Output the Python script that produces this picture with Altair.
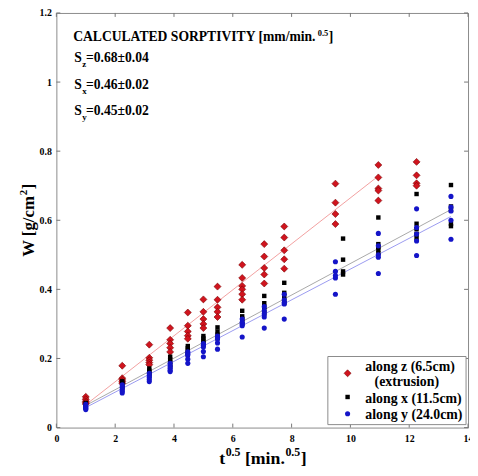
import altair as alt
import pandas as pd

FONT = "Liberation Serif"

# ---------------- data ----------------
z_t = [1.0, 2.24, 3.16, 3.87, 4.47, 5.0, 5.48, 6.32, 7.07, 7.75, 9.49, 10.95, 12.25]
z_w = [
    [0.089, 0.082, 0.076, 0.072, 0.068],
    [0.179, 0.143, 0.138, 0.133, 0.128],
    [0.240, 0.202, 0.195, 0.188, 0.182],
    [0.288, 0.254, 0.243, 0.231, 0.219],
    [0.333, 0.295, 0.278, 0.266, 0.257],
    [0.371, 0.335, 0.314, 0.300, 0.288],
    [0.408, 0.370, 0.348, 0.335, 0.320],
    [0.471, 0.433, 0.410, 0.400, 0.386, 0.370],
    [0.531, 0.495, 0.462, 0.443, 0.417],
    [0.582, 0.550, 0.513, 0.487, 0.460],
    [0.706, 0.651, 0.618, 0.589],
    [0.760, 0.724, 0.692, 0.686, 0.657],
    [0.769, 0.730, 0.707, 0.700],
]

x_t = [1.0, 2.24, 3.16, 3.87, 4.47, 5.0, 5.48, 6.32, 7.07, 7.75, 9.75, 10.95, 12.25, 13.42]
x_w = [
    [0.071, 0.066, 0.062, 0.060, 0.058],
    [0.134, 0.129, 0.124, 0.118, 0.114],
    [0.171, 0.165, 0.160, 0.155, 0.150],
    [0.205, 0.197, 0.190, 0.181, 0.176],
    [0.236, 0.230, 0.224, 0.217, 0.210],
    [0.265, 0.258, 0.252, 0.245, 0.240],
    [0.290, 0.278, 0.269, 0.262, 0.258],
    [0.338, 0.322, 0.315, 0.306, 0.300],
    [0.381, 0.360, 0.350, 0.340, 0.330],
    [0.419, 0.390, 0.380, 0.368, 0.360],
    [0.547, 0.486, 0.452, 0.443],
    [0.608, 0.531, 0.522, 0.515, 0.505],
    [0.676, 0.590, 0.574, 0.560, 0.548],
    [0.702, 0.640, 0.629, 0.590, 0.583],
]

y_t = [1.0, 2.24, 3.16, 3.87, 4.47, 5.0, 5.48, 6.32, 7.07, 7.75, 9.49, 10.95, 12.25, 13.42]
y_w = [
    [0.067, 0.062, 0.058, 0.055, 0.052],
    [0.124, 0.117, 0.110, 0.105, 0.100],
    [0.157, 0.150, 0.145, 0.139, 0.133],
    [0.186, 0.178, 0.172, 0.166, 0.162],
    [0.219, 0.214, 0.210, 0.198, 0.186],
    [0.243, 0.238, 0.233, 0.220, 0.205],
    [0.265, 0.261, 0.257, 0.245, 0.227],
    [0.314, 0.305, 0.300, 0.295, 0.262],
    [0.350, 0.338, 0.329, 0.320, 0.288],
    [0.386, 0.370, 0.362, 0.358, 0.314],
    [0.480, 0.452, 0.440, 0.433, 0.386],
    [0.562, 0.526, 0.500, 0.493, 0.446],
    [0.633, 0.579, 0.560, 0.540, 0.498],
    [0.669, 0.638, 0.627, 0.600, 0.545],
]

# fitted lines (end points)
zfit_t = [1.0, 10.95]
zfit_w = [0.066, 0.728]
xfit_t = [1.0, 13.42]
xfit_w = [0.064, 0.631]
yfit_t = [1.0, 13.42]
yfit_w = [0.058, 0.611]

x_ticks = [0, 2, 4, 6, 8, 10, 12, 14]
y_ticks = [0, 0.2, 0.4, 0.6, 0.8, 1.0, 1.2]

W, H = 417, 420


def long(ts, ws):
    rows = []
    for t, vals in zip(ts, ws):
        for v in vals:
            rows.append({"t": t, "w": v})
    return pd.DataFrame(rows)


xs = alt.Scale(domain=[0, 14], nice=False, zero=False)
ys = alt.Scale(domain=[0, 1.2], nice=False, zero=False)

xaxis = alt.Axis(values=x_ticks, format="~g", title=None, ticks=False, domain=False, grid=False,
                 labelFont=FONT, labelFontWeight="bold", labelFontSize=10, labelPadding=6,
                 labelFlush=False, labelOverlap=False, labelColor="black")
yaxis = alt.Axis(values=y_ticks, format="~g", title=None, ticks=False, domain=False, grid=False,
                 labelFont=FONT, labelFontWeight="bold", labelFontSize=10, labelPadding=5,
                 labelOverlap=False, labelColor="black")

# inward tick marks on all four sides
xt = pd.DataFrame({"t": x_ticks})
yt = pd.DataFrame({"w": y_ticks})
TICK = "#777777"
tick_b = alt.Chart(xt).mark_rule(color=TICK, strokeWidth=1).encode(
    x=alt.X("t:Q", scale=xs, axis=xaxis), y=alt.value(H), y2=alt.value(H - 4))
tick_t = alt.Chart(xt).mark_rule(color=TICK, strokeWidth=1).encode(
    x=alt.X("t:Q", scale=xs), y=alt.value(0), y2=alt.value(4))
tick_l = alt.Chart(yt).mark_rule(color=TICK, strokeWidth=1).encode(
    y=alt.Y("w:Q", scale=ys, axis=yaxis), x=alt.value(0), x2=alt.value(4))
tick_r = alt.Chart(yt).mark_rule(color=TICK, strokeWidth=1).encode(
    y=alt.Y("w:Q", scale=ys), x=alt.value(W - 4), x2=alt.value(W))


def fit(ts, ws, color):
    return alt.Chart(pd.DataFrame({"t": ts, "w": ws})).mark_line(color=color, strokeWidth=1).encode(
        x=alt.X("t:Q", scale=xs), y=alt.Y("w:Q", scale=ys))


RED = "#d0141e"
BLUE = "#1414c8"

line_z = fit(zfit_t, zfit_w, "#f2a0a0")
line_x = fit(xfit_t, xfit_w, "#a8a8a8")
line_y = fit(yfit_t, yfit_w, "#9a9af0")

pts_z = alt.Chart(long(z_t, z_w)).mark_point(shape="diamond", filled=True, size=50, color=RED,
                                              stroke="#7a0000", strokeWidth=0.6, opacity=1).encode(
    x=alt.X("t:Q", scale=xs), y=alt.Y("w:Q", scale=ys))
pts_x = alt.Chart(long(x_t, x_w)).mark_point(shape="square", filled=True, size=20, color="black",
                                              opacity=1).encode(
    x=alt.X("t:Q", scale=xs), y=alt.Y("w:Q", scale=ys))
pts_y = alt.Chart(long(y_t, y_w)).mark_point(shape="circle", filled=True, size=27, color=BLUE,
                                              opacity=1).encode(
    x=alt.X("t:Q", scale=xs), y=alt.Y("w:Q", scale=ys))

ONE = alt.Data(values=[{"a": 1}])


def txt(s, x, y, size, align="left", angle=0):
    return alt.Chart(ONE).mark_text(text=s, font=FONT, fontWeight="bold", fontSize=size, align=align,
                                    baseline="alphabetic", color="black", angle=angle).encode(
        x=alt.value(x), y=alt.value(y))


# Times-Bold advance widths (per 1000 em) used to chain text pieces
ADV = {'C': 722, 'A': 722, 'L': 667, 'U': 722, 'T': 667, 'E': 667, 'D': 722, ' ': 250, 'S': 556,
       'O': 778, 'R': 722, 'P': 611, 'I': 389, 'V': 722, 'Y': 722, '[': 333, ']': 333, 'm': 833,
       '/': 278, 'i': 278, 'n': 556, '.': 250, '=': 570, '±': 570, 't': 333, 'W': 1000, 'g': 500,
       'c': 444, 'z': 444, 'x': 500, 'y': 500}


def width(s, size):
    return sum(ADV.get(ch, 500) for ch in s) * size / 1000.0


anns = []
# header
hx, hy, hs = 17, 28, 13.8
head = "CALCULATED SORPTIVITY [mm/min."
anns.append(txt(head, hx, hy, hs))
sx = hx + width(head, hs) + 0.5
anns.append(txt("0.5", sx, hy - 5, 8.5))
anns.append(txt("]", sx + width("0.5", 8.5) + 0.5, hy, hs))

s_lines = [("z", "=0.68±0.04", 50), ("x", "=0.46±0.02", 77), ("y", "=0.45±0.02", 103)]
for sub, rest, by in s_lines:
    anns.append(txt("S", 18, by, 13.8))
    anns.append(txt(sub, 18 + width("S", 13.8) + 0.5, by + 5, 9))
    anns.append(txt(rest, 30, by, 13.8))

# x-axis title: t^0.5 [min.^0.5]
tx, ty, ts_ = 165, 457, 18
anns.append(txt("t", tx, ty, ts_))
p = tx + width("t", ts_) + 0.5
anns.append(txt("0.5", p, ty - 8, 12))
p += width("0.5", 12) + width(" ", ts_)
anns.append(txt("[min.", p, ty, ts_))
p += width("[min.", ts_) + 0.5
anns.append(txt("0.5", p, ty - 8, 12))
p += width("0.5", 12) + 0.5
anns.append(txt("]", p, ty, ts_))

# y-axis title: W [g/cm^2] rotated
yx, yy, yfs = -23, 247, 17
anns.append(txt("W [g/cm", yx, yy, yfs, angle=270))
q = yy - width("W [g/cm", yfs) - 0.5
anns.append(txt("2", yx - 7, q, 11, angle=270))
q -= width("2", 11) + 0.5
anns.append(txt("]", yx, q, yfs, angle=270))

# legend
leg_box = alt.Chart(ONE).mark_rect(fill="white", stroke="#8a8a8a", strokeWidth=1).encode(
    x=alt.value(275), x2=alt.value(415), y=alt.value(348), y2=alt.value(417))
leg_z = alt.Chart(ONE).mark_point(shape="diamond", filled=True, size=50, color=RED, stroke="#7a0000",
                                  strokeWidth=0.6, opacity=1).encode(x=alt.value(295), y=alt.value(365))
leg_x = alt.Chart(ONE).mark_point(shape="square", filled=True, size=20, color="black", opacity=1).encode(
    x=alt.value(295), y=alt.value(389))
leg_y = alt.Chart(ONE).mark_point(shape="circle", filled=True, size=27, color=BLUE, opacity=1).encode(
    x=alt.value(295), y=alt.value(406))
leg_txt = [
    txt("along z (6.5cm)", 313, 363, 14),
    txt("(extrusion)", 355, 377.5, 14, align="center"),
    txt("along x (11.5cm)", 313, 395, 14),
    txt("along y (24.0cm)", 313, 411.5, 14),
]

chart = alt.layer(
    tick_b, tick_t, tick_l, tick_r,
    line_z, line_x, line_y,
    pts_z, pts_x, pts_y,
    *anns,
    leg_box, leg_z, leg_x, leg_y, *leg_txt,
).properties(
    width=W, height=H,
    padding={"left": 49, "top": 2, "right": 2, "bottom": 44},
    autosize=alt.AutoSizeParams(type="none"),
).configure_view(stroke="#8a8a8a", strokeWidth=1)

chart.save("out.html", embed_options={"renderer": "svg", "actions": False})
